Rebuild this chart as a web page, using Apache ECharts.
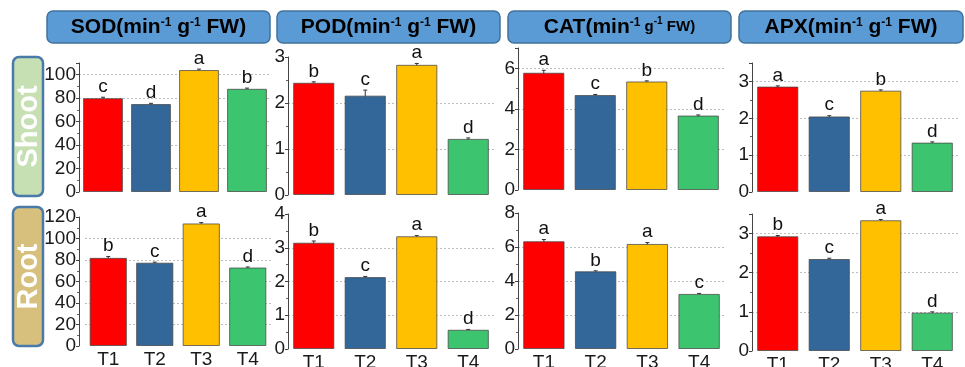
<!DOCTYPE html>
<html><head><meta charset="utf-8">
<script src="https://cdn.jsdelivr.net/npm/echarts@6/dist/echarts.min.js"></script>
<style>html,body{margin:0;padding:0;background:#fff}#c{width:965px;height:367px}</style>
</head><body><div id="c"></div>
<script>
// ---- data ----
const categories = ['T1', 'T2', 'T3', 'T4'];
const enzymes = ['SOD', 'POD', 'CAT', 'APX'];
const tissues = ['Shoot', 'Root'];

const sodShoot = [80, 75, 104, 88];
const sodShootErr = [0.8, 0.6, 0.8, 0.6];
const sodShootSig = ['c', 'd', 'a', 'b'];
const sodRoot = [82, 77.5, 114, 73];
const sodRootErr = [1.2, 0.5, 0.8, 0.5];
const sodRootSig = ['b', 'c', 'a', 'd'];

const podShoot = [2.44, 2.16, 2.83, 1.22];
const podShootErr = [0.02, 0.12, 0.03, 0.02];
const podShootSig = ['b', 'c', 'a', 'd'];
const podRoot = [3.15, 2.13, 3.34, 0.57];
const podRootErr = [0.05, 0.02, 0.02, 0.01];
const podRootSig = ['b', 'c', 'a', 'd'];

const catShoot = [5.78, 4.68, 5.35, 3.67];
const catShootErr = [0.12, 0.03, 0.03, 0.03];
const catShootSig = ['a', 'c', 'b', 'd'];
const catRoot = [6.34, 4.57, 6.18, 3.24];
const catRootErr = [0.1, 0.03, 0.08, 0.03];
const catRootSig = ['a', 'b', 'a', 'c'];

const apxShoot = [2.86, 2.05, 2.75, 1.34];
const apxShootErr = [0.02, 0.02, 0.02, 0.02];
const apxShootSig = ['a', 'c', 'b', 'd'];
const apxRoot = [2.93, 2.35, 3.34, 0.98];
const apxRootErr = [0.02, 0.02, 0.02, 0.02];
const apxRootSig = ['b', 'c', 'a', 'd'];

// axis tick settings per panel (order: SOD shoot, SOD root, POD shoot, POD root, CAT shoot, CAT root, APX shoot, APX root)
const axisMax = [110, 120, 3, 4, 7, 8, 3.5, 3.5];
const axisStep = [20, 20, 1, 1, 2, 2, 1, 1];

// ---- layout / style ----
const barColors = ['#ff0000', '#336699', '#ffc000', '#3cc46f'];
const FONT = 'Liberation Sans, Arial, sans-serif';

const panels = [
  {v: sodShoot, e: sodShootErr, s: sodShootSig, left: 79, top: 63, bottom: 192, width: 192, offset: 0, bw: '83%', xl: false},
  {v: sodRoot, e: sodRootErr, s: sodRootSig, left: 85, top: 217, bottom: 346, width: 186, offset: 6, bw: '80%', xl: true},
  {v: podShoot, e: podShootErr, s: podShootSig, left: 288, top: 57, bottom: 195, width: 206, offset: 0, bw: '80%', xl: false},
  {v: podRoot, e: podRootErr, s: podRootSig, left: 288, top: 214, bottom: 349, width: 206, offset: 0, bw: '80%', xl: true},
  {v: catShoot, e: catShootErr, s: catShootSig, left: 518, top: 48, bottom: 190, width: 206, offset: 0, bw: '80%', xl: false},
  {v: catRoot, e: catRootErr, s: catRootSig, left: 518, top: 213, bottom: 349, width: 207, offset: 0, bw: '80%', xl: true},
  {v: apxShoot, e: apxShootErr, s: apxShootSig, left: 752, top: 63, bottom: 192, width: 206, offset: 0, bw: '80%', xl: false},
  {v: apxRoot, e: apxRootErr, s: apxRootSig, left: 752, top: 214, bottom: 351, width: 206, offset: 0, bw: '80%', xl: true}
];

const grid = [], xAxis = [], yAxis = [], series = [];
panels.forEach((p, i) => {
  grid.push({left: p.left, top: p.top, width: p.width, height: p.bottom - p.top,
    containLabel: false, outerBoundsMode: 'none'});
  xAxis.push({
    type: 'category', gridIndex: i, data: categories,
    axisLine: {show: false}, axisTick: {show: false},
    axisLabel: {show: p.xl, fontSize: 19, color: '#1a1a1a', fontFamily: FONT, margin: 4}
  });
  const step = axisStep[i];
  yAxis.push({
    type: 'value', gridIndex: i, min: 0, max: axisMax[i], interval: step, offset: p.offset,
    axisLine: {show: true, lineStyle: {color: '#444', width: 1}},
    axisTick: {show: true, length: 3, lineStyle: {color: '#444'}},
    minorTick: {show: true, splitNumber: 2, length: 2, lineStyle: {color: '#666'}},
    axisLabel: {fontSize: 19, color: '#1a1a1a', fontFamily: FONT, margin: 3,
      formatter: v => (Math.abs(v / step - Math.round(v / step)) < 1e-6 ? String(v) : '')},
    splitLine: {show: true, showMinLine: false, showMaxLine: false, lineStyle: {color: '#bdbdbd', type: [2, 2], width: 1}}
  });
  series.push({
    type: 'bar', xAxisIndex: i, yAxisIndex: i, barWidth: p.bw,
    data: p.v.map((val, k) => ({value: val, itemStyle: {color: barColors[k]}})),
    itemStyle: {borderColor: 'rgba(70,70,70,0.75)', borderWidth: 1},
    silent: true, animation: false
  });
  series.push({
    type: 'custom', xAxisIndex: i, yAxisIndex: i, animation: false, silent: true,
    data: p.v.map((val, k) => [k, val, p.e[k]]),
    encode: {x: 0, y: 1},
    renderItem: function (params, api) {
      const k = params.dataIndex;
      const x = api.value(0), v = api.value(1), e = api.value(2);
      const t = api.coord([x, v + e]);
      const b = api.coord([x, v - e]);
      const st = {stroke: '#333', lineWidth: 1};
      return {type: 'group', children: [
        {type: 'line', shape: {x1: t[0], y1: t[1], x2: b[0], y2: b[1]}, style: st},
        {type: 'line', shape: {x1: t[0] - 2, y1: t[1], x2: t[0] + 2, y2: t[1]}, style: st},
        {type: 'text', x: t[0], y: t[1] - 1,
          style: {text: p.s[k], fill: '#111', font: '19px ' + FONT, textAlign: 'center', textVerticalAlign: 'bottom'}}
      ]};
    }
  });
});

// ---- header boxes and row labels ----
const headerBoxes = [[47, 270], [277, 500], [508, 731], [739, 963]];
const graphic = [];
const headRich = {
  m: {fontSize: 21, fontWeight: 'bold', color: '#fff', fontFamily: FONT},
  s: {fontSize: 12, fontWeight: 'bold', color: '#fff', fontFamily: FONT, verticalAlign: 'top'},
  n: {fontSize: 15, fontWeight: 'bold', color: '#fff', fontFamily: FONT},
  t: {fontSize: 10, fontWeight: 'bold', color: '#fff', fontFamily: FONT, verticalAlign: 'top'}
};
enzymes.forEach((name, i) => {
  const [x0, x1] = headerBoxes[i];
  graphic.push({type: 'rect', shape: {x: x0, y: 11, width: x1 - x0, height: 32, r: 6},
    style: {fill: '#5b9bd5', stroke: '#41719c', lineWidth: 1.5}});
  const txt = name === 'CAT'
    ? '{m|' + name + '(min}{s|-1}{n| g}{t|-1}{n| FW)}'
    : '{m|' + name + '(min}{s|-1}{m| g}{s|-1}{m| FW)}';
  graphic.push({type: 'text', x: (x0 + x1) / 2, y: 27,
    style: {text: txt, rich: headRich, textAlign: 'center', textVerticalAlign: 'middle'}});
});
const rowBoxes = [[57, 196, '#c6e0b4'], [207, 346, '#d7c07e']];
tissues.forEach((name, i) => {
  const [y0, y1, fill] = rowBoxes[i];
  graphic.push({type: 'rect', shape: {x: 13, y: y0, width: 30, height: y1 - y0, r: 6},
    style: {fill: fill, stroke: '#4a7aa8', lineWidth: 2.5}});
  graphic.push({type: 'text', x: 29, y: (y0 + y1) / 2, rotation: Math.PI / 2,
    style: {text: name, fill: '#fff', font: 'bold 29px ' + FONT, textAlign: 'center', textVerticalAlign: 'middle'}});
});

const chart = echarts.init(document.getElementById('c'), null, {renderer: 'canvas'});
chart.setOption({animation: false, grid, xAxis, yAxis, series, graphic});
</script>
</body></html>
